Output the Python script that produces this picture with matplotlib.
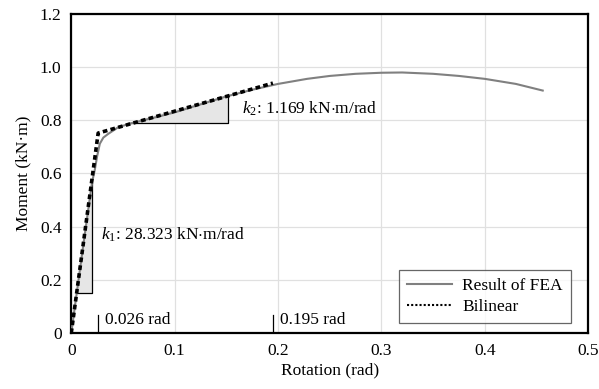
import matplotlib

matplotlib.use("Agg")
import matplotlib.pyplot as plt
from matplotlib.ticker import FuncFormatter

plt.rcParams["font.family"] = ["Liberation Serif", "DejaVu Serif"]
plt.rcParams["mathtext.fontset"] = "custom"
plt.rcParams["mathtext.rm"] = "Liberation Serif"
plt.rcParams["mathtext.it"] = "Liberation Serif:italic"

# FEA moment-rotation curve
fea_rot = [0, 0.010, 0.020, 0.0228, 0.025, 0.0276, 0.031, 0.0357, 0.0454, 0.058,
           0.080, 0.100, 0.125, 0.150, 0.175, 0.200, 0.228, 0.250, 0.275, 0.300,
           0.320, 0.350, 0.375, 0.400, 0.430, 0.456]
fea_mom = [0, 0.285, 0.565, 0.615, 0.665, 0.712, 0.735, 0.749, 0.774, 0.789,
           0.810, 0.830, 0.860, 0.890, 0.915, 0.937, 0.956, 0.967, 0.975, 0.979,
           0.980, 0.975, 0.967, 0.956, 0.937, 0.912]

# bilinear idealisation
bil_rot = [0, 0.026, 0.195]
bil_mom = [0, 0.752, 0.94]

# slope triangles
tri1_rot = [0.0052, 0.0196, 0.0196]
tri1_mom = [0.15, 0.15, 0.565]
tri2_rot = [0.055, 0.152, 0.152]
tri2_mom = [0.789, 0.789, 0.895]

x_ticks = [0, 0.1, 0.2, 0.3, 0.4, 0.5]
y_ticks = [0, 0.2, 0.4, 0.6, 0.8, 1.0, 1.2]

FS = 12.5

fig = plt.figure(figsize=(5.99, 3.89), dpi=100, facecolor="white")
ax = fig.add_axes([0.119, 0.144, 0.863, 0.820])

ax.fill(tri1_rot, tri1_mom, facecolor="#e6e6e6", edgecolor="none", zorder=2)
ax.plot(tri1_rot, tri1_mom, color="black", lw=0.9, zorder=2)
ax.fill(tri2_rot, tri2_mom, facecolor="#e6e6e6", edgecolor="none", zorder=2)
ax.plot(tri2_rot, tri2_mom, color="black", lw=0.9, zorder=2)

ax.plot(fea_rot, fea_mom, color="#808080", lw=1.5, label="Result of FEA", zorder=3)
ax.plot(bil_rot, bil_mom, color="black", lw=2.6, linestyle=(0, (1.3, 0.9)),
        label="Bilinear", zorder=4)

# yield / end rotation markers
ax.plot([0.026, 0.026], [0, 0.068], color="black", lw=0.9)
ax.plot([0.195, 0.195], [0, 0.068], color="black", lw=0.9)
ax.text(0.0326, 0.05, "0.026 rad", fontsize=FS, va="center", ha="left")
ax.text(0.2015, 0.05, "0.195 rad", fontsize=FS, va="center", ha="left")

ax.text(0.0292, 0.368, r"$k_1$: 28.323 kN$\cdot$m/rad", fontsize=FS, va="center", ha="left")
ax.text(0.165, 0.843, r"$k_2$: 1.169 kN$\cdot$m/rad", fontsize=FS, va="center", ha="left")

ax.set_xlim(0, 0.5)
ax.set_ylim(0, 1.2)
ax.set_xticks(x_ticks)
ax.set_yticks(y_ticks)
ax.xaxis.set_major_formatter(FuncFormatter(lambda v, p: "0" if v == 0 else f"{v:.1f}"))
ax.yaxis.set_major_formatter(FuncFormatter(lambda v, p: "0" if v == 0 else f"{v:.1f}"))
ax.tick_params(length=0, labelsize=FS, pad=7)
ax.grid(True, color="#e0e0e0", lw=0.9)
ax.set_axisbelow(True)
for s in ax.spines.values():
    s.set_linewidth(1.6)
    s.set_color("black")

ax.set_xlabel("Rotation (rad)", fontsize=FS, labelpad=3)
ax.set_ylabel("Moment (kN·m)", fontsize=FS, labelpad=6)

leg = ax.legend(loc="lower right", bbox_to_anchor=(0.983, 0.005), fontsize=FS,
                frameon=True, fancybox=False, edgecolor="#404040",
                handlelength=2.6, borderpad=0.45, labelspacing=0.25,
                handletextpad=0.6)
leg.get_frame().set_linewidth(0.9)
leg.get_lines()[1].set_linewidth(1.5)
leg.get_lines()[1].set_linestyle((0, (1, 1)))

fig.savefig("out.png", dpi=100, facecolor="white")
